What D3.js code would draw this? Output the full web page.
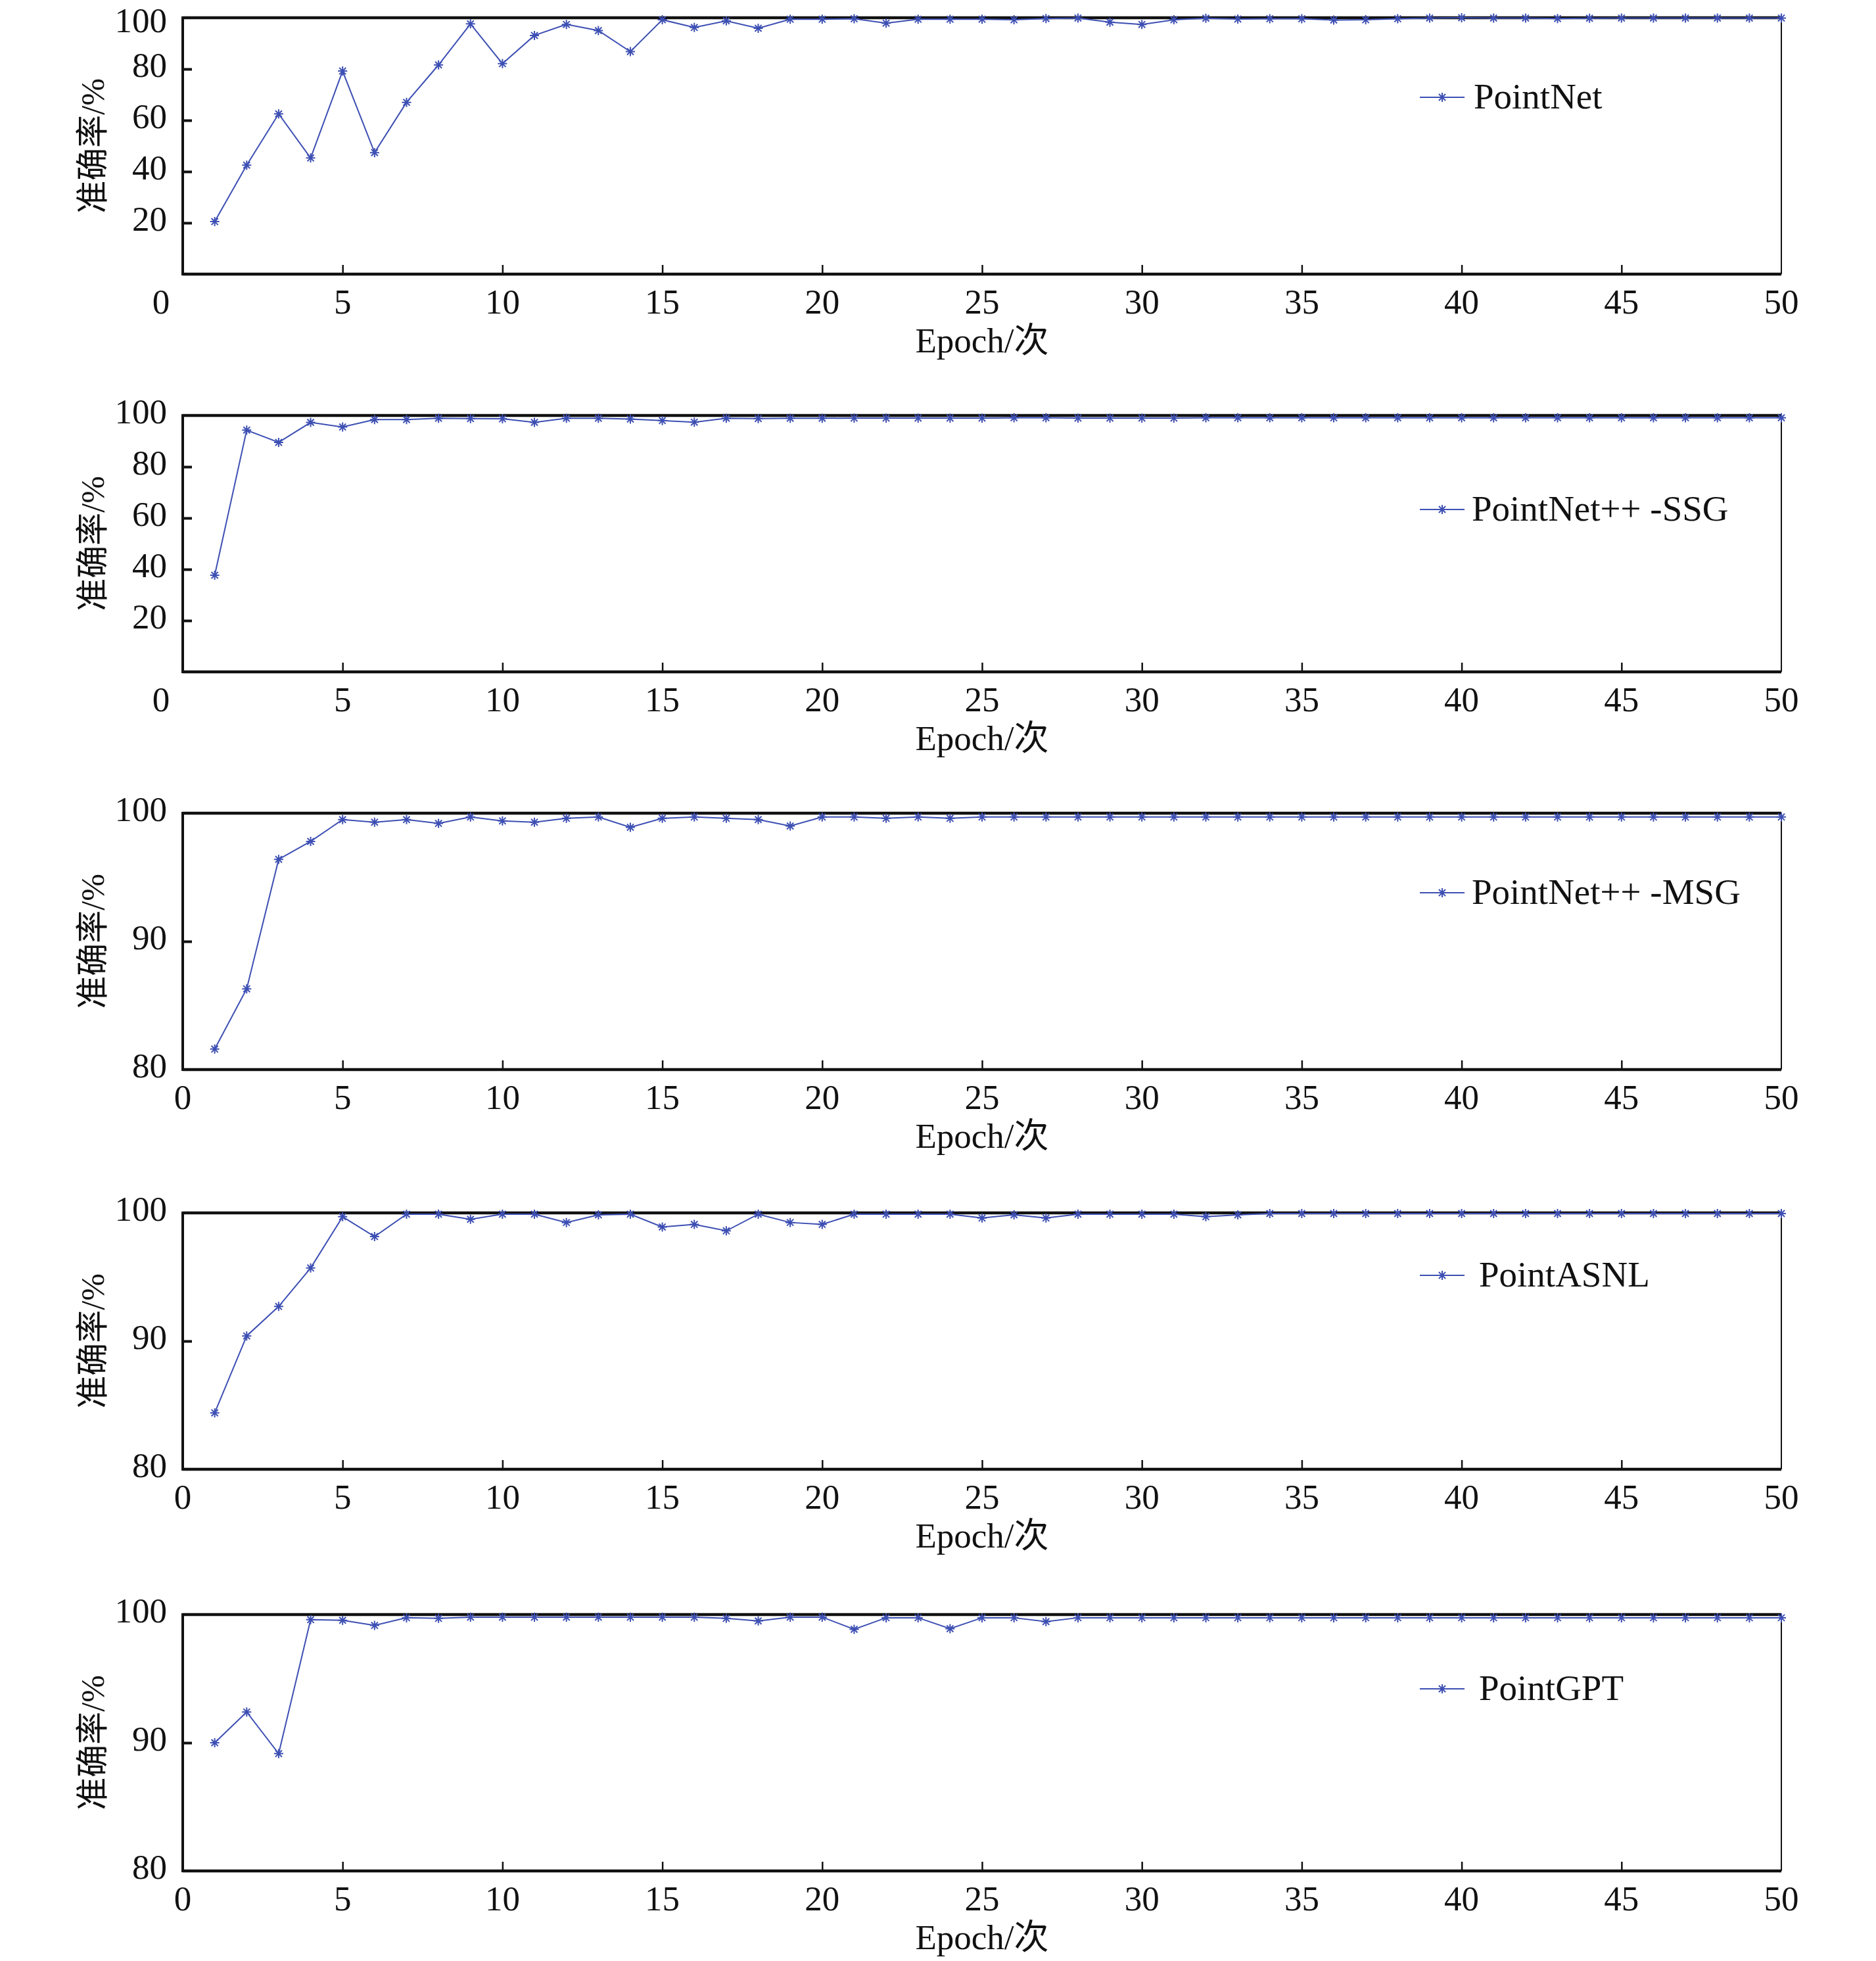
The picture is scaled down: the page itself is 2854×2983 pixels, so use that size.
<!DOCTYPE html>
<html>
<head>
<meta charset="utf-8">
<script src="https://cdn.jsdelivr.net/npm/d3@7"></script>
<style>
  html, body { margin: 0; padding: 0; background: #fff; }
  text { font-family: "Liberation Serif", "Times New Roman", "Noto Sans CJK SC", serif; fill: #111; }
</style>
</head>
<body>
<svg id="chart" width="2854" height="2983"></svg>
<script>
// ---------- data ----------
const epochs = d3.range(1, 51);
const seriesNames = ["PointNet", "PointNet++ -SSG", "PointNet++ -MSG", "PointASNL", "PointGPT"];

const pointNet = [20.5, 42.5, 62.5, 45.3, 79.2, 47.4, 67.0, 81.6, 97.6, 82.1,
  93.1, 97.4, 95.0, 86.8, 99.2, 96.2, 98.8, 95.9, 99.4, 99.4,
  99.6, 97.9, 99.4, 99.4, 99.4, 99.2, 99.7, 99.9, 98.3, 97.4,
  99.2, 99.8, 99.5, 99.6, 99.6, 99.1, 99.2, 99.6, 99.9, 100,
  99.9, 99.9, 99.7, 99.8, 99.9, 99.9, 99.9, 99.9, 99.9, 99.9];

const pointNetSSG = [37.7, 94.3, 89.5, 97.3, 95.5, 98.4, 98.4, 98.9, 98.8, 98.7,
  97.3, 98.9, 98.9, 98.6, 98.0, 97.4, 98.9, 98.8, 98.9, 98.9,
  99.0, 99.0, 99.0, 99.0, 99.0, 99.1, 99.1, 99.0, 99.0, 99.0,
  99.0, 99.1, 99.1, 99.1, 99.1, 99.1, 99.1, 99.1, 99.1, 99.1,
  99.1, 99.1, 99.1, 99.1, 99.1, 99.1, 99.1, 99.1, 99.1, 99.1];

const pointNetMSG = [81.6, 86.3, 96.4, 97.8, 99.5, 99.3, 99.5, 99.2, 99.7, 99.4,
  99.3, 99.6, 99.7, 98.9, 99.6, 99.7, 99.6, 99.5, 99.0, 99.7,
  99.7, 99.6, 99.7, 99.6, 99.7, 99.7, 99.7, 99.7, 99.7, 99.7,
  99.7, 99.7, 99.7, 99.7, 99.7, 99.7, 99.7, 99.7, 99.7, 99.7,
  99.7, 99.7, 99.7, 99.7, 99.7, 99.7, 99.7, 99.7, 99.7, 99.7];

const pointASNL = [84.4, 90.4, 92.7, 95.7, 99.7, 98.15, 99.9, 99.9, 99.5, 99.9,
  99.9, 99.25, 99.85, 99.9, 98.9, 99.1, 98.6, 99.9, 99.25, 99.1,
  99.9, 99.9, 99.9, 99.9, 99.6, 99.85, 99.6, 99.9, 99.9, 99.9,
  99.9, 99.7, 99.85, 99.95, 99.95, 99.95, 99.95, 99.95, 99.95, 99.95,
  99.95, 99.95, 99.95, 99.95, 99.95, 99.95, 99.95, 99.95, 99.95, 99.95];

const pointGPT = [90.0, 92.4, 89.15, 99.6, 99.55, 99.15, 99.75, 99.7, 99.8, 99.8,
  99.8, 99.8, 99.8, 99.8, 99.8, 99.8, 99.7, 99.5, 99.8, 99.8,
  98.85, 99.75, 99.75, 98.9, 99.75, 99.75, 99.45, 99.75, 99.75, 99.75,
  99.75, 99.75, 99.75, 99.75, 99.75, 99.75, 99.75, 99.75, 99.75, 99.75,
  99.75, 99.75, 99.75, 99.75, 99.75, 99.75, 99.75, 99.75, 99.75, 99.75];

const seriesValues = [pointNet, pointNetSSG, pointNetMSG, pointASNL, pointGPT];
const yDomains = [[0, 100], [0, 100], [80, 100], [80, 100], [80, 100]];
const yTickValues = [[20, 40, 60, 80, 100], [20, 40, 60, 80, 100], [80, 90, 100], [80, 90, 100], [80, 90, 100]];
const xTickValues = [0, 5, 10, 15, 20, 25, 30, 35, 40, 45, 50];
const xLabel = "Epoch/次";
const yLabel = "准确率/%";

// ---------- layout ----------
const panelTops = [27, 632, 1237, 1845, 2456];
const panelH = 390;
const left = 278, right = 2710;
const legendDy = [121, 143, 121, 95, 113];
const legendTextX = [2242, 2239, 2239, 2250, 2250];
const zeroShift = [-33, -33, 0, 0, 0];
const color = "#3d4fb3";
const fontSize = 53;

const svg = d3.select("#chart");
svg.append("rect").attr("width", 2854).attr("height", 2983).attr("fill", "#fff");

const x = d3.scaleLinear().domain([0, 50]).range([left, right]);

function asterisk(r) {
  const a = r * 0.72;
  return `M${-r},0L${r},0M0,${-r}L0,${r}M${-a},${-a}L${a},${a}M${-a},${a}L${a},${-a}`;
}

seriesValues.forEach((vals, i) => {
  const top = panelTops[i], bottom = top + panelH;
  const y = d3.scaleLinear().domain(yDomains[i]).range([bottom, top]);
  const g = svg.append("g");

  // inward ticks
  const yAxis = d3.axisRight(y).tickValues(yTickValues[i].filter(v => v !== yDomains[i][1] && v !== yDomains[i][0])).tickSize(14).tickFormat("");
  g.append("g").attr("transform", `translate(${left},0)`).call(yAxis)
    .call(s => s.select(".domain").remove())
    .call(s => s.selectAll("line").attr("stroke", "#111").attr("stroke-width", 4));
  const xAxis = d3.axisTop(x).tickValues(xTickValues.filter(v => v > 0 && v < 50)).tickSize(14).tickFormat("");
  g.append("g").attr("transform", `translate(0,${bottom})`).call(xAxis)
    .call(s => s.select(".domain").remove())
    .call(s => s.selectAll("line").attr("stroke", "#111").attr("stroke-width", 2.5));

  // frame
  g.append("line").attr("x1", left).attr("x2", right).attr("y1", top).attr("y2", top).attr("stroke", "#111").attr("stroke-width", 4.5);
  g.append("line").attr("x1", left).attr("x2", right).attr("y1", bottom).attr("y2", bottom).attr("stroke", "#111").attr("stroke-width", 4.5);
  g.append("line").attr("x1", left).attr("x2", left).attr("y1", top - 2).attr("y2", bottom + 2).attr("stroke", "#111").attr("stroke-width", 4);
  g.append("line").attr("x1", right).attr("x2", right).attr("y1", top).attr("y2", bottom).attr("stroke", "#111").attr("stroke-width", 2);

  // y tick labels (top label of first panel nudged down to stay inside the page)
  g.selectAll(".ytl").data(yTickValues[i]).join("text")
    .attr("x", left - 24)
    .attr("y", d => y(d) + (i === 0 && d === yDomains[i][1] ? 10 : 0))
    .attr("text-anchor", "end").attr("dominant-baseline", "middle")
    .attr("font-size", fontSize).text(d => d);

  // x tick labels
  g.selectAll(".xtl").data(xTickValues).join("text")
    .attr("x", d => x(d) + (d === 0 ? zeroShift[i] : 0))
    .attr("y", bottom + 60)
    .attr("text-anchor", "middle")
    .attr("font-size", fontSize).text(d => d);

  // axis titles
  g.append("text").attr("x", (left + right) / 2).attr("y", bottom + 119)
    .attr("text-anchor", "middle").attr("font-size", fontSize).text(xLabel);
  g.append("text")
    .attr("transform", `translate(147,${(top + bottom) / 2}) rotate(-90)`)
    .attr("text-anchor", "middle").attr("dominant-baseline", "middle")
    .attr("font-size", 50).text(yLabel);

  // data line
  const line = d3.line().x((d, k) => x(epochs[k])).y(d => y(d));
  g.append("path").datum(vals).attr("d", line)
    .attr("fill", "none").attr("stroke", color).attr("stroke-width", 2);
  g.selectAll(".mk").data(vals).join("path")
    .attr("transform", (d, k) => `translate(${x(epochs[k])},${y(d)})`)
    .attr("d", asterisk(7)).attr("stroke", color).attr("stroke-width", 2).attr("fill", "none");

  // legend
  const ly = top + legendDy[i];
  g.append("line").attr("x1", 2160).attr("x2", 2228).attr("y1", ly).attr("y2", ly)
    .attr("stroke", color).attr("stroke-width", 2);
  g.append("path").attr("transform", `translate(2194,${ly})`).attr("d", asterisk(7))
    .attr("stroke", color).attr("stroke-width", 2).attr("fill", "none");
  g.append("text").attr("x", legendTextX[i]).attr("y", ly + 17)
    .attr("font-size", 55).text(seriesNames[i]);
});
</script>
</body>
</html>
